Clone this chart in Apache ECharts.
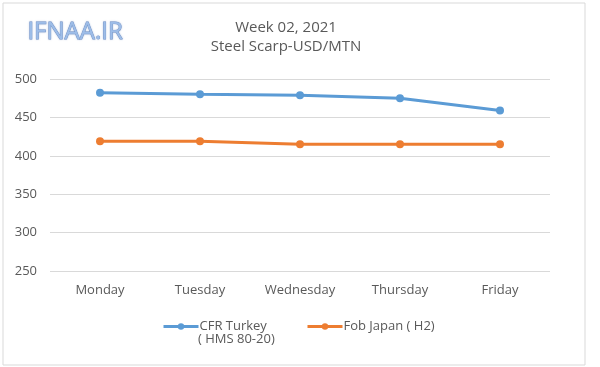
<!DOCTYPE html>
<html>
<head>
<meta charset="utf-8">
<script src="https://cdn.jsdelivr.net/npm/echarts@6/dist/echarts.min.js"></script>
<style>html,body{margin:0;padding:0;background:#fff}#c{width:600px;height:367px}</style>
</head>
<body>
<div id="c"></div>
<script>
var categories = ['Monday', 'Tuesday', 'Wednesday', 'Thursday', 'Friday'];
var cfrTurkey = [482, 480, 479, 475, 459];
var fobJapan = [419, 419, 415, 415, 415];
var yTicks = [250, 300, 350, 400, 450, 500];
var titleLines = ['Week 02, 2021', 'Steel Scarp-USD/MTN'];
var seriesNames = ['CFR Turkey', 'Fob Japan ( H2)'];
var subLabel = '( HMS 80-20)';
var watermark = 'IFNAA.IR';

var FONT = 'Open Sans';
var chart = echarts.init(document.getElementById('c'), null, {renderer: 'canvas'});
chart.setOption({
  animation: false,
  backgroundColor: '#fff',
  title: {
    text: titleLines.join('\n'),
    left: 281, top: 13, textAlign: 'center',
    textStyle: {fontFamily: FONT, fontSize: 15, fontWeight: 'normal', color: '#595959', lineHeight: 19}
  },
  graphic: [
    {type: 'rect', shape: {x: 3, y: 3, width: 582, height: 362},
     style: {fill: 'none', stroke: '#d9d9d9', lineWidth: 1}, silent: true},
    {type: 'text', left: 27, top: 20,
     style: {text: watermark, fontFamily: FONT, fontSize: 24, fontWeight: 'normal',
             fill: '#9dbde8', stroke: '#6f8fc4', lineWidth: 0.8,
             textShadowColor: 'rgba(120,150,200,0.4)', textShadowBlur: 2}},
    {type: 'text', left: 198, top: 333,
     style: {text: subLabel, fontFamily: FONT, fontSize: 13, fill: '#595959'}}
  ],
  legend: [{
    data: [seriesNames[0]],
    left: 157, top: 315, itemWidth: 35, itemHeight: 8, itemGap: 4,
    lineStyle: {width: 3},
    textStyle: {fontFamily: FONT, fontSize: 13, color: '#595959', padding: [0, 0, 0, -4]}
  }, {
    data: [seriesNames[1]],
    left: 301, top: 315, itemWidth: 35, itemHeight: 8,
    lineStyle: {width: 3},
    textStyle: {fontFamily: FONT, fontSize: 13, color: '#595959', padding: [0, 0, 0, -4]}
  }],
  grid: {left: 50, right: 50, top: 79, bottom: 96},
  xAxis: {
    type: 'category', data: categories, boundaryGap: true,
    axisLine: {show: false}, axisTick: {show: false},
    axisLabel: {fontFamily: FONT, fontSize: 13, color: '#595959', margin: 13}
  },
  yAxis: {
    type: 'value', min: yTicks[0], max: yTicks[yTicks.length - 1], interval: 50,
    axisLine: {show: false}, axisTick: {show: false},
    axisLabel: {fontFamily: FONT, fontSize: 13, color: '#595959', margin: 13},
    splitLine: {lineStyle: {color: '#d9d9d9', width: 1}}
  },
  series: [{
    name: seriesNames[0], type: 'line', data: cfrTurkey,
    symbol: 'circle', symbolSize: 8,
    lineStyle: {color: '#5b9bd5', width: 3}, itemStyle: {color: '#5b9bd5'}
  }, {
    name: seriesNames[1], type: 'line', data: fobJapan,
    symbol: 'circle', symbolSize: 8,
    lineStyle: {color: '#ed7d31', width: 3}, itemStyle: {color: '#ed7d31'}
  }]
});
</script>
</body>
</html>
